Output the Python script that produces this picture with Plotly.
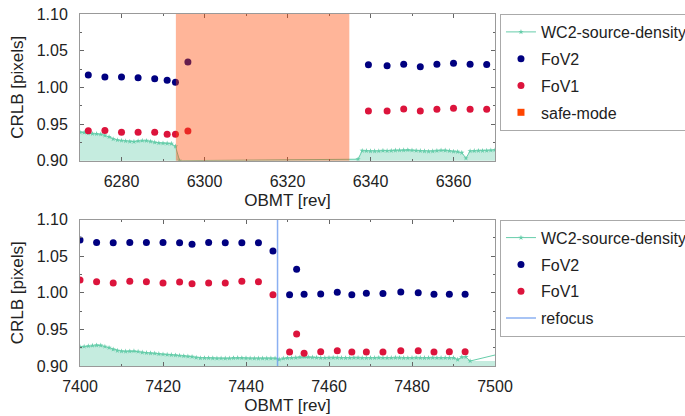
import plotly.graph_objects as go

# ---------------- data ----------------
# top panel (OBMT 6270-6370)
top_fov_x = [6272, 6276, 6280, 6284, 6288, 6291, 6293, 6296,
             6339.5, 6344, 6348, 6352, 6356, 6360, 6364, 6368]
top_fov2 = [1.0168, 1.0141, 1.0141, 1.0131, 1.0118, 1.0096, 1.0069, 1.0345,
            1.0309, 1.0295, 1.0314, 1.0281, 1.0314, 1.0327, 1.0314, 1.0310]
top_fov1 = [0.9409, 0.9410, 0.9387, 0.9387, 0.9387, 0.9360, 0.9360, 0.9405,
            0.9677, 0.9677, 0.9705, 0.9677, 0.9700, 0.9714, 0.9700, 0.9700]

top_dens_x = list(range(6270, 6295)) + list(range(6337, 6371))
top_dens = [0.9388, 0.9385, 0.9375, 0.9368, 0.9366, 0.9360, 0.9345, 0.9325,
            0.9295, 0.9282, 0.9275, 0.9268, 0.9262, 0.9260, 0.9268, 0.9275,
            0.9272, 0.9262, 0.9250, 0.9242, 0.9238, 0.9236, 0.9232, 0.9195,
            0.9000,
            0.9020, 0.9136, 0.9134, 0.9130, 0.9130, 0.9132, 0.9138, 0.9134,
            0.9136, 0.9140, 0.9142, 0.9144, 0.9146, 0.9142, 0.9138, 0.9134,
            0.9130, 0.9126, 0.9130, 0.9136, 0.9142, 0.9140, 0.9134, 0.9126,
            0.9122, 0.9110, 0.9033, 0.9132, 0.9134, 0.9136, 0.9136, 0.9138,
            0.9142, 0.9146]

safe_mode = [6293.1, 6334.9]

# bottom panel (OBMT 7400-7500)
bot_fov_x = [7400, 7404, 7408, 7412, 7416, 7420, 7424, 7427, 7431, 7435,
             7439, 7443, 7446.5, 7450.5, 7452.2, 7454, 7458, 7462, 7465.5,
             7469, 7473, 7477.3, 7481.5, 7485.3, 7489, 7492.8]
bot_fov2 = [1.0722, 1.0690, 1.0686, 1.0690, 1.0690, 1.0690, 1.0686, 1.0664,
            1.0690, 1.0686, 1.0686, 1.0686, 1.0572, 0.9975, 1.0322, 0.9980,
            0.9986, 1.0009, 0.9975, 0.9995, 0.9990, 1.0010, 1.0000, 0.9980,
            0.9980, 0.9980]
bot_fov1 = [1.0176, 1.0153, 1.0135, 1.0158, 1.0153, 1.0135, 1.0150, 1.0126,
            1.0135, 1.0135, 1.0158, 1.0153, 0.9975, 0.9191, 0.9437, 0.9173,
            0.9196, 0.9210, 0.9190, 0.9190, 0.9190, 0.9210, 0.9210, 0.9190,
            0.9196, 0.9196]

bot_dens_x = list(range(7400, 7495))
bot_dens = [0.9262, 0.9266, 0.9273, 0.9280, 0.9284, 0.9282, 0.9266, 0.9250,
            0.9228, 0.9210, 0.9202, 0.9200, 0.9202, 0.9205, 0.9198, 0.9186,
            0.9180, 0.9176, 0.9173, 0.9166, 0.9160, 0.9156, 0.9152, 0.9148,
            0.9143, 0.9137, 0.9132, 0.9127, 0.9115, 0.9108, 0.9110, 0.9110,
            0.9107, 0.9105, 0.9106, 0.9105, 0.9106, 0.9110, 0.9112, 0.9110,
            0.9107, 0.9106, 0.9105, 0.9104, 0.9105, 0.9104, 0.9105, 0.9106,
            0.9090, 0.9105, 0.9110, 0.9112, 0.9114, 0.9120, 0.9123, 0.9122,
            0.9118, 0.9115, 0.9112, 0.9112, 0.9113, 0.9114, 0.9113, 0.9112,
            0.9110, 0.9112, 0.9114, 0.9113, 0.9111, 0.9110, 0.9111, 0.9112,
            0.9113, 0.9112, 0.9111, 0.9112, 0.9114, 0.9113, 0.9111, 0.9110,
            0.9112, 0.9113, 0.9112, 0.9111, 0.9112, 0.9113, 0.9112, 0.9111,
            0.9112, 0.9111, 0.9112, 0.9088, 0.9122, 0.9124, 0.9068]
bot_dens_tail_x = [7494, 7504]
bot_dens_tail = [0.9068, 0.9205]

refocus = 7447.6

# ---------------- style ----------------
FONT = "Liberation Sans"
C_DENS = "#66cdaa"
C_FILL = "rgba(102,205,170,0.38)"
C_FOV2 = "#000080"
C_FOV1 = "#dc143c"
C_SAFE = "#ff4500"
C_REF = "rgba(100,149,237,0.75)"

fig = go.Figure()

# ---- top panel ----
fig.add_trace(go.Scatter(x=top_dens_x, y=top_dens, mode="none", fill="tozeroy",
                         fillcolor=C_FILL, showlegend=False, hoverinfo="skip",
                         xaxis="x", yaxis="y"))
fig.add_trace(go.Scatter(x=top_dens_x, y=top_dens, mode="lines+markers",
                         name="WC2-source-density", legendgroup="a",
                         line=dict(color=C_DENS, width=1),
                         marker=dict(symbol="star", size=4, color=C_DENS),
                         xaxis="x", yaxis="y", legend="legend"))
fig.add_trace(go.Scatter(x=top_fov_x, y=top_fov2, mode="markers", name="FoV2",
                         legendgroup="b",
                         marker=dict(size=7, color=C_FOV2),
                         xaxis="x", yaxis="y", legend="legend"))
fig.add_trace(go.Scatter(x=top_fov_x, y=top_fov1, mode="markers", name="FoV1",
                         legendgroup="c",
                         marker=dict(size=7, color=C_FOV1),
                         xaxis="x", yaxis="y", legend="legend"))
fig.add_trace(go.Scatter(x=[None], y=[None], mode="markers", name="safe-mode",
                         legendgroup="d",
                         marker=dict(size=7, color=C_SAFE, symbol="square"),
                         xaxis="x", yaxis="y", legend="legend"))

fig.add_shape(type="rect", xref="x", yref="y domain", x0=safe_mode[0],
              x1=safe_mode[1], y0=0, y1=1, fillcolor=C_SAFE, opacity=0.4,
              line=dict(width=0), layer="above")

# ---- bottom panel ----
fig.add_trace(go.Scatter(x=bot_dens_x + [bot_dens_tail_x[1]],
                         y=bot_dens + [bot_dens_tail[0]], mode="none",
                         fill="tozeroy", fillcolor=C_FILL, showlegend=False,
                         hoverinfo="skip", xaxis="x2", yaxis="y2"))
fig.add_trace(go.Scatter(x=bot_dens_tail_x, y=bot_dens_tail, mode="lines",
                         line=dict(color=C_DENS, width=1), showlegend=False,
                         xaxis="x2", yaxis="y2"))
fig.add_trace(go.Scatter(x=bot_dens_x, y=bot_dens, mode="lines+markers",
                         name="WC2-source-density", legendgroup="e",
                         line=dict(color=C_DENS, width=1),
                         marker=dict(symbol="star", size=4, color=C_DENS),
                         xaxis="x2", yaxis="y2", legend="legend2"))
fig.add_trace(go.Scatter(x=bot_fov_x, y=bot_fov2, mode="markers", name="FoV2",
                         legendgroup="f",
                         marker=dict(size=7, color=C_FOV2),
                         xaxis="x2", yaxis="y2", legend="legend2"))
fig.add_trace(go.Scatter(x=bot_fov_x, y=bot_fov1, mode="markers", name="FoV1",
                         legendgroup="g",
                         marker=dict(size=7, color=C_FOV1),
                         xaxis="x2", yaxis="y2", legend="legend2"))
fig.add_trace(go.Scatter(x=[refocus, refocus], y=[0.8, 1.2], mode="lines",
                         name="refocus", legendgroup="h",
                         line=dict(color=C_REF, width=1.5),
                         xaxis="x2", yaxis="y2", legend="legend2"))

axis_common = dict(showline=True, linecolor="#999999", linewidth=1,
                   mirror="allticks", ticks="inside", ticklen=4,
                   tickcolor="#666666", showgrid=False, zeroline=False,
                   tickfont=dict(family=FONT, size=16, color="#222222"),
                   title_font=dict(family=FONT, size=17, color="#222222"))

fig.update_layout(
    width=685, height=416,
    margin=dict(l=80, r=190, t=14, b=50, autoexpand=False),
    paper_bgcolor="white", plot_bgcolor="white",
    font=dict(family=FONT, size=16, color="#222222"),
    xaxis=dict(axis_common, domain=[0, 1], anchor="y", range=[6270, 6370],
               dtick=20, tick0=6280, ticklabelstandoff=6,
               minor=dict(dtick=10, ticks="inside", ticklen=2,
                          tickcolor="#666666"),
               title=dict(text="OBMT [rev]", standoff=5)),
    yaxis=dict(axis_common, domain=[0.5833, 1], anchor="x",
               range=[0.90, 1.10], dtick=0.05, tickformat=".2f",
               ticklabelstandoff=8,
               minor=dict(dtick=0.025, ticks="inside", ticklen=2,
                          tickcolor="#666666"),
               title=dict(text="CRLB [pixels]", standoff=8)),
    xaxis2=dict(axis_common, domain=[0, 1], anchor="y2", range=[7400, 7500],
                dtick=20, tick0=7400, ticklabelstandoff=6,
                minor=dict(dtick=10, ticks="inside", ticklen=2,
                           tickcolor="#666666"),
                title=dict(text="OBMT [rev]", standoff=4)),
    yaxis2=dict(axis_common, domain=[0, 0.4156], anchor="x2",
                range=[0.90, 1.10], dtick=0.05, tickformat=".2f",
                ticklabelstandoff=8,
                minor=dict(dtick=0.025, ticks="inside", ticklen=2,
                           tickcolor="#666666"),
                title=dict(text="CRLB [pixels]", standoff=8)),
    legend=dict(x=1.012, y=1.0, xanchor="left", yanchor="top",
                bordercolor="#aaaaaa", borderwidth=1, bgcolor="white",
                font=dict(family=FONT, size=16, color="#222222"),
                tracegroupgap=3, itemwidth=30),
    legend2=dict(x=1.012, y=0.4156, xanchor="left", yanchor="top",
                 bordercolor="#aaaaaa", borderwidth=1, bgcolor="white",
                 font=dict(family=FONT, size=16, color="#222222"),
                 tracegroupgap=3, itemwidth=30),
    showlegend=True,
)

fig.write_html("out.html")
